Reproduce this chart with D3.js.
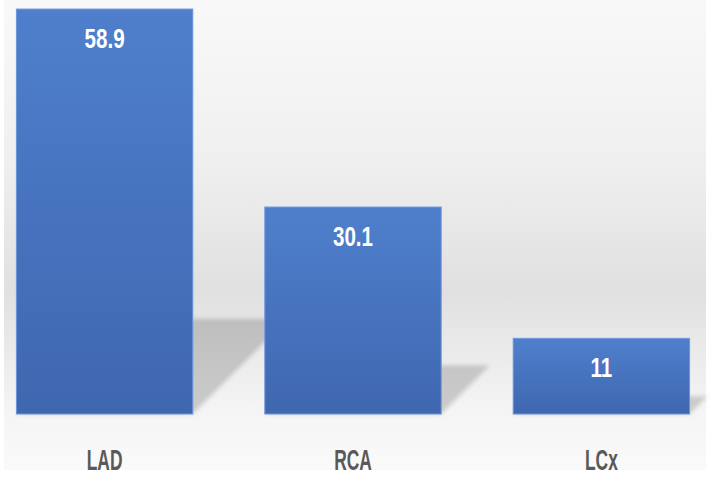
<!DOCTYPE html>
<html>
<head>
<meta charset="utf-8">
<script src="https://cdn.jsdelivr.net/npm/d3@7"></script>
<style>
  html, body { margin: 0; padding: 0; background: #ffffff; }
  svg { display: block; }
</style>
</head>
<body>
<svg id="chart" width="711" height="483"></svg>
<script>
// Share of lesions by coronary artery
const categories = ["LAD", "RCA", "LCx"];
const values = [58.9, 30.1, 11];

const W = 711, H = 483;
const svg = d3.select("#chart");
const defs = svg.append("defs");

const x = d3.scaleBand()
  .domain(categories)
  .range([4, 702])
  .paddingInner(0.29)
  .paddingOuter(0.05);

const y = d3.scaleLinear()
  .domain([0, 60])
  .range([414, 1.5]);

// Wall gradient behind the bars
const bgGrad = defs.append("linearGradient")
  .attr("id", "bgGrad").attr("x1", 0).attr("y1", 0).attr("x2", 0).attr("y2", 1);
[[0, "#f9f9f9"], [0.35, "#efefef"], [0.62, "#e0e0e0"], [0.88, "#f5f5f5"], [1, "#fafafa"]]
  .forEach(([o, c]) => bgGrad.append("stop").attr("offset", o).attr("stop-color", c));

// Bar fill gradient
const barGrad = defs.append("linearGradient")
  .attr("id", "barGrad").attr("x1", 0).attr("y1", 0).attr("x2", 0).attr("y2", 1);
barGrad.append("stop").attr("offset", 0).attr("stop-color", "#4f7fcc");
barGrad.append("stop").attr("offset", 1).attr("stop-color", "#3f67b0");

// Soft blur for the floor shadows
defs.append("filter").attr("id", "soft")
  .attr("x", "-20%").attr("y", "-20%").attr("width", "140%").attr("height", "140%")
  .append("feGaussianBlur").attr("stdDeviation", 2.2);

svg.append("rect")
  .attr("x", 4).attr("y", 0).attr("width", 702).attr("height", 470)
  .attr("fill", "url(#bgGrad)");

const data = categories.map((c, i) => ({ cat: c, val: values[i] }));
const base = y(0);

// Perspective shadows cast onto the floor
svg.append("g").selectAll("polygon")
  .data(data)
  .join("polygon")
  .attr("filter", "url(#soft)")
  .attr("fill", "#000")
  .attr("fill-opacity", 0.17)
  .attr("points", d => {
    const x0 = x(d.cat), x1 = x(d.cat) + x.bandwidth();
    const h = (base - y(d.val)) * 0.235;
    return [[x0, base], [x1, base], [x1 + h, base - h], [x0 + h, base - h]]
      .map(p => p.join(",")).join(" ");
  });

// Bars
svg.append("g").selectAll("rect")
  .data(data)
  .join("rect")
  .attr("x", d => x(d.cat))
  .attr("y", d => y(d.val))
  .attr("width", x.bandwidth())
  .attr("height", d => base - y(d.val))
  .attr("fill", "url(#barGrad)")
  .attr("stroke", "#6b95dc")
  .attr("stroke-width", 1);

const fontFam = "'Liberation Sans', Arial, sans-serif";

// Value labels inside bar tops
svg.append("g").selectAll("text")
  .data(data)
  .join("text")
  .attr("transform", d => `translate(${x(d.cat) + x.bandwidth() / 2},${y(d.val) + 39}) scale(0.75,1)`)
  .attr("text-anchor", "middle")
  .attr("font-family", fontFam)
  .attr("font-weight", "bold")
  .attr("font-size", 27.5)
  .attr("fill", "#ffffff")
  .text(d => d.val);

// Category axis labels
svg.append("g").selectAll("text")
  .data(data)
  .join("text")
  .attr("transform", d => `translate(${x(d.cat) + x.bandwidth() / 2},470) scale(0.6,1)`)
  .attr("text-anchor", "middle")
  .attr("font-family", fontFam)
  .attr("font-weight", "bold")
  .attr("font-size", 29)
  .attr("fill", "#595959")
  .text(d => d.cat);
</script>
</body>
</html>
